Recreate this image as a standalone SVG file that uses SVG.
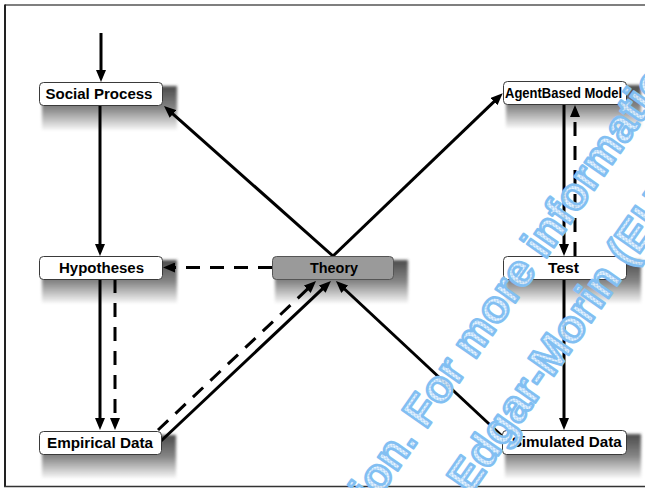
<svg xmlns="http://www.w3.org/2000/svg" width="645" height="488" viewBox="0 0 645 488">
<style>
.box{fill:#ffffff;stroke:#3a3a3a;stroke-width:1}
.theory{fill:#9a9a9a;stroke:#555555;stroke-width:1}
.lbl{font-family:"Liberation Sans",Arial,sans-serif;font-weight:bold;font-size:14px;fill:#000;text-anchor:middle}
.sh{fill:url(#sg);filter:url(#blur)}
.c{fill:none;stroke:#000;stroke-width:3}
.d{stroke-dasharray:14,10}
.wm{font-family:"Liberation Sans",Arial,sans-serif;font-weight:bold;font-size:45px;fill:url(#hatch);fill-opacity:0.92;stroke:#82bff2;stroke-width:2.6;stroke-linejoin:round}
</style>
<defs>
<linearGradient id="sg" x1="0" y1="0" x2="0" y2="1">
<stop offset="0" stop-color="#4a4a4a"/>
<stop offset="0.5" stop-color="#858585"/>
<stop offset="1" stop-color="#f6f6f6"/>
</linearGradient>
<pattern id="hatch" width="4" height="4" patternUnits="userSpaceOnUse">
<rect width="4" height="4" fill="#e4f1fd"/>
<path d="M0,4 L4,0 M0,0 L4,4" stroke="#a9d3f7" stroke-width="0.9"/>
</pattern>
<filter id="blur" x="-10%" y="-10%" width="120%" height="120%"><feGaussianBlur stdDeviation="1.5"/></filter>
<marker id="ah" viewBox="0 0 12 10" refX="4" refY="5" markerWidth="12" markerHeight="10" markerUnits="userSpaceOnUse" orient="auto"><path d="M0,0 L12,5 L0,10 z" fill="#000"/></marker>
</defs>
<rect width="645" height="488" fill="#fff"/>
<g id="frame">
<line x1="5" y1="5" x2="645" y2="5" stroke="#555" stroke-width="1.5"/>
<line x1="5" y1="4.5" x2="5" y2="487" stroke="#222" stroke-width="2"/>
<line x1="4" y1="486.5" x2="645" y2="486.5" stroke="#333" stroke-width="1.5"/>
</g>
<g id="shadows">
<rect class="sh" x="42" y="86" width="135" height="44"/>
<rect class="sh" x="506" y="85" width="135" height="43"/>
<rect class="sh" x="42" y="260" width="135" height="43"/>
<rect class="sh" x="275" y="260" width="133" height="43"/>
<rect class="sh" x="506" y="260" width="135" height="43"/>
<rect class="sh" x="42" y="435" width="134" height="43"/>
<rect class="sh" x="505" y="434" width="136" height="44"/>
</g>
<g id="connectors">
<line class="c" x1="101" y1="33" x2="101" y2="74" marker-end="url(#ah)"/>
<line class="c" x1="100" y1="106" x2="100" y2="248" marker-end="url(#ah)"/>
<line class="c" x1="333" y1="256" x2="170" y2="111.3" marker-end="url(#ah)"/>
<line class="c" x1="333" y1="256" x2="496.9" y2="98.8" marker-end="url(#ah)"/>
<line class="c d" x1="272" y1="267.5" x2="171" y2="267.5" marker-end="url(#ah)"/>
<line class="c" x1="100" y1="279" x2="100" y2="422" marker-end="url(#ah)"/>
<line class="c d" x1="115" y1="279" x2="115" y2="422" marker-end="url(#ah)"/>
<line class="c" x1="161" y1="441" x2="325.1" y2="286.4" marker-end="url(#ah)"/>
<line class="c d" x1="158" y1="430" x2="310.2" y2="286.5" marker-end="url(#ah)"/>
<line class="c" x1="502" y1="436" x2="341.8" y2="286.5" marker-end="url(#ah)"/>
<line class="c" x1="564" y1="104" x2="564" y2="248" marker-end="url(#ah)"/>
<line class="c d" x1="575" y1="256" x2="575" y2="113" marker-end="url(#ah)"/>
<line class="c" x1="564" y1="279" x2="564" y2="422" marker-end="url(#ah)"/>
</g>
<g id="social-process">
<rect class="box" x="39.5" y="82.5" width="123" height="23" rx="4"/>
<text class="lbl" x="99" y="98.5" textLength="107" lengthAdjust="spacingAndGlyphs">Social Process</text>
</g>
<g id="agent-based-model">
<rect class="box" x="503.5" y="81.5" width="123" height="23" rx="4"/>
<text class="lbl" x="563.5" y="97.5" textLength="117" lengthAdjust="spacingAndGlyphs">AgentBased Model</text>
</g>
<g id="hypotheses">
<rect class="box" x="39.5" y="256.5" width="123" height="23" rx="4"/>
<text class="lbl" x="101.5" y="272.5" textLength="85" lengthAdjust="spacingAndGlyphs">Hypotheses</text>
</g>
<g id="theory">
<rect class="theory" x="272.5" y="256.5" width="121" height="23" rx="4"/>
<text class="lbl" x="334" y="272.5" textLength="48" lengthAdjust="spacingAndGlyphs">Theory</text>
</g>
<g id="test">
<rect class="box" x="503.5" y="256.5" width="123" height="23" rx="4"/>
<text class="lbl" x="563.5" y="272.5" textLength="31" lengthAdjust="spacingAndGlyphs">Test</text>
</g>
<g id="empirical-data">
<rect class="box" x="39.5" y="431.5" width="122" height="23" rx="4"/>
<text class="lbl" x="100" y="447.5" textLength="106" lengthAdjust="spacingAndGlyphs">Empirical Data</text>
</g>
<g id="simulated-data">
<rect class="box" x="502.5" y="430.5" width="124" height="24" rx="4"/>
<text class="lbl" x="566.7" y="446.5" textLength="110" lengthAdjust="spacingAndGlyphs">Simulated Data</text>
</g>
<g id="watermark">
<text class="wm" x="364.2" y="518.3" transform="rotate(-55 364.2 518.3)">tion. For more informatio</text>
<text class="wm" x="470.2" y="495.3" transform="rotate(-55 470.2 495.3)">Edgar-Morin (EH</text>
</g>
</svg>
